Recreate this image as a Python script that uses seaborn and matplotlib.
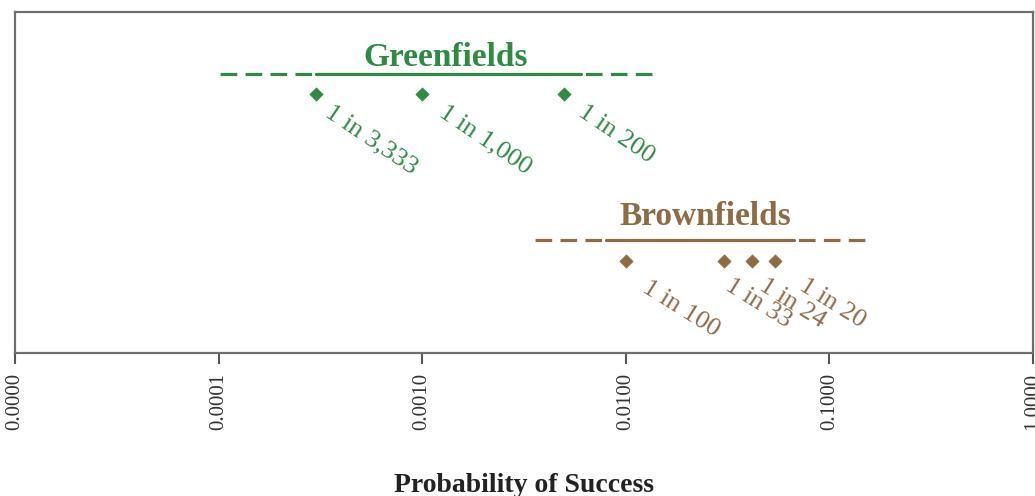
#!/usr/bin/env python3
# -*- coding: utf-8 -*-

import matplotlib
matplotlib.use("Agg")
import matplotlib.pyplot as plt
import seaborn as sns
import pandas as pd

# ranges: dashed start, solid start, solid end, dashed end
green_range = [1.0e-4, 3.0e-4, 6.0e-3, 1.4e-2]
brown_range = [3.4e-3, 8.0e-3, 6.67e-2, 1.59e-1]

green_odds = [3333, 1000, 200]
green_probs = [1 / 3333, 1 / 1000, 1 / 200]
brown_odds = [100, 33, 24, 20]
brown_probs = [0.01, 0.0303, 0.0417, 0.054]

xticks = [1e-5, 1e-4, 1e-3, 1e-2, 1e-1, 1.0]
xticklabels = ["0.0000", "0.0001", "0.0010", "0.0100", "0.1000", "1.0000"]

GREEN = "#2e8b42"
BROWN = "#8f6b44"
SERIF = ["Liberation Serif", "DejaVu Serif"]
DASH = (6.4, (5.2, 2.6))  # start inside a gap, so the dashes stay clear of the solid part


def draw_group(ax, rng, probs, odds, name, color, y_line, y_mark, title_x, title_y, offsets, angle):
    # dashed parts drawn outward from the solid part
    sns.lineplot(x=[rng[1], rng[0]], y=[y_line, y_line], ax=ax, sort=False,
                 color=color, linewidth=2.3, linestyle=DASH)
    sns.lineplot(x=[rng[2], rng[3]], y=[y_line, y_line], ax=ax, sort=False,
                 color=color, linewidth=2.3, linestyle=DASH)
    sns.lineplot(x=[rng[1], rng[2]], y=[y_line, y_line], ax=ax, color=color, linewidth=2.3)

    pts = pd.DataFrame({"p": probs, "y": [y_mark] * len(probs)})
    sns.scatterplot(data=pts, x="p", y="y", ax=ax, marker="D", s=45, color=color,
                    edgecolor=color, zorder=3)

    for p, n, off in zip(probs, odds, offsets):
        ax.annotate(f"1 in {n:,}", (p, y_mark), xytext=off, textcoords="offset pixels",
                    rotation=angle, rotation_mode="anchor", ha="left", va="top",
                    color=color, fontsize=19, family=SERIF)

    ax.text(title_x, title_y, name, ha="center", va="baseline", color=color,
            fontsize=24, fontweight="bold", family=SERIF)


sns.set_theme(style="white")
fig = plt.figure(figsize=(10.35, 4.96), dpi=100)
ax = fig.add_axes([0.0145, 0.288, 0.9835, 0.688])
ax.set_xscale("log")

draw_group(ax, green_range, green_probs, green_odds, "Greenfields", GREEN,
           0.818, 0.76, 1.3e-3, 0.842, [(18, -7), (25, -7), (22, -7)], -34)
draw_group(ax, brown_range, brown_probs, brown_odds, "Brownfields", BROWN,
           0.331, 0.27, 2.47e-2, 0.375, [(24, -16), (9, -14), (15, -14), (32, -14)], -32)

ax.set_xlim(1e-5, 1.0)
ax.set_ylim(0, 1)
ax.set_yticks([])
ax.set_xticks(xticks)
ax.set_xticklabels(xticklabels, rotation=90, family=SERIF, fontsize=15, color="#333333")
ax.minorticks_off()
ax.tick_params(axis="x", bottom=True, length=8, width=1.5, color="#555555", pad=6)
for s in ax.spines.values():
    s.set_color("#6e6e6e")
    s.set_linewidth(1.6)

ax.set_xlabel("Probability of Success", fontsize=20, fontweight="bold", family=SERIF,
              color="#222222", labelpad=31)
ax.set_ylabel("")

plt.savefig("out.png", dpi=100)
